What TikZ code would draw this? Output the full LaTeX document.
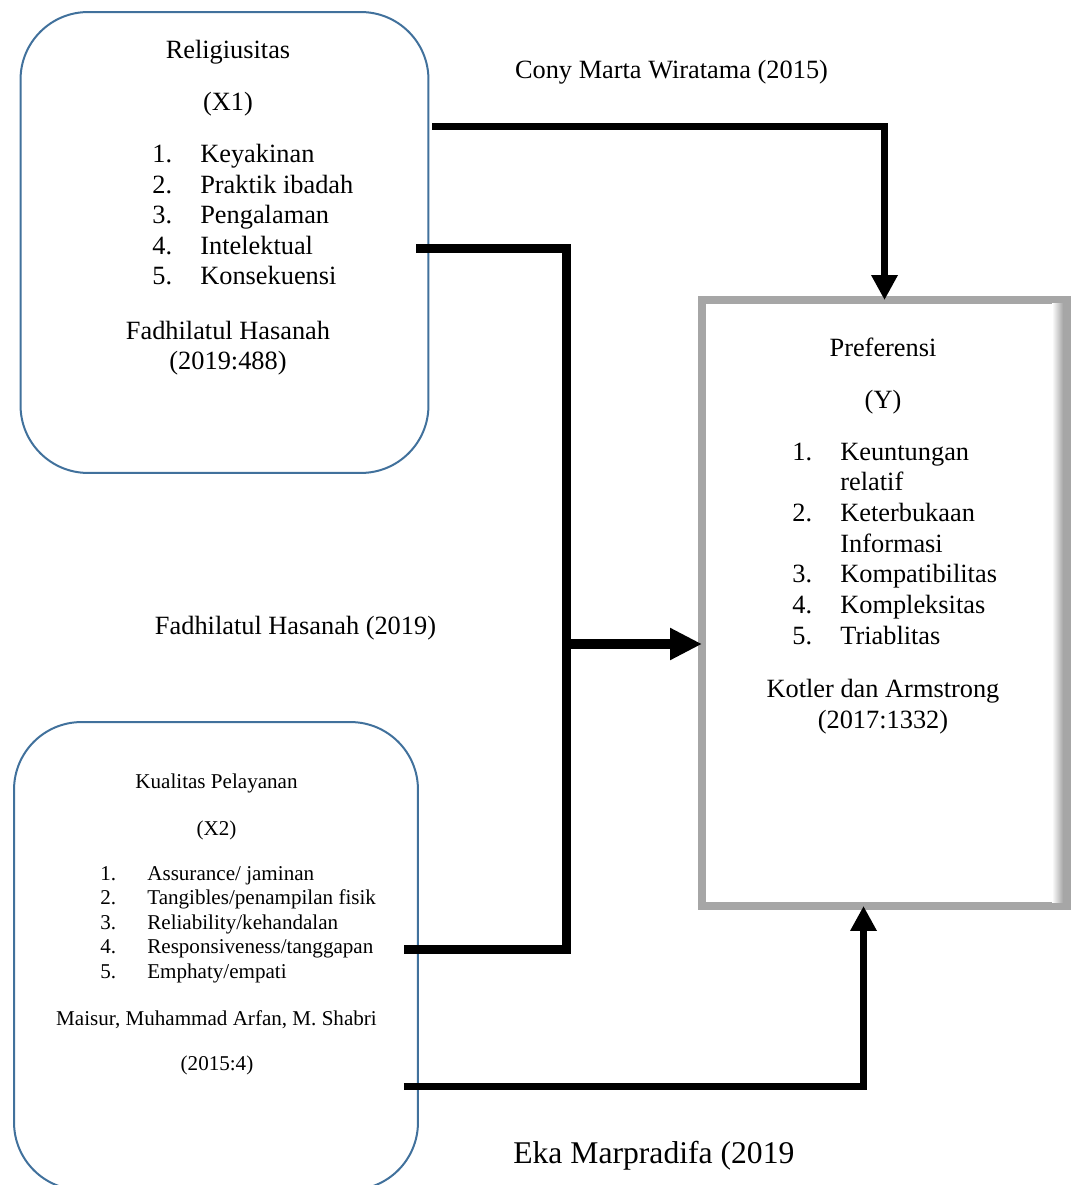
\documentclass[tikz,border=0pt]{standalone}
\usepackage{fontspec}
\setmainfont{Liberation Serif}
\usetikzlibrary{calc,arrows.meta}
\definecolor{varline}{RGB}{65,113,156}
\definecolor{yline}{RGB}{166,166,166}

\begin{document}
\begin{tikzpicture}[x=0.02cm,y=-0.02cm,var/.style={draw=varline,line width=0.04cm,rounded corners=1.35cm,fill=white,inner sep=0pt},yvar/.style={draw=yline,line width=0.16cm,fill=white,inner sep=0pt,outer sep=0pt},txt/.style={anchor=base,inner sep=0pt,font=\fontsize{15pt}{17.3pt}\selectfont},sml/.style={txt,font=\fontsize{12pt}{14pt}\selectfont},lst/.style={anchor=base west},flow/.style={draw=black,line width=0.14cm,-{Triangle[length=0.5cm,width=0.5cm]}},bar/.style={draw=black,line width=0.18cm},flowbig/.style={draw=black,line width=0.19cm,-{Triangle[length=0.64cm,width=0.6cm]}}]
\useasboundingbox (0,0) rectangle (1077,1185);
\node[var,minimum width=8.16cm,minimum height=9.22cm] (x1) at (224.5,242.5) {};
\node[var,minimum width=8.08cm,minimum height=9.36cm] (x2) at (216,956) {};
\node[yvar,minimum width=7.3cm,minimum height=12.12cm] (y) at (884.5,603) {};
\shade[left color=white,right color=yline] (1052,304) rectangle (1063,902);
\node[txt] (x1title) at (228,59) {Religiusitas};
\node[txt] (x1sym) at (228,111) {(X1)};
\node[txt,lst] (x1list) at (152,163) {\begin{tabular}[t]{@{}p{0.96cm}@{}l@{}}1.&Keyakinan\\2.&Praktik ibadah\\3.&Pengalaman\\4.&Intelektual\\5.&Konsekuensi\end{tabular}};
\node[txt] (x1ref) at (228,339) {Fadhilatul Hasanah};
\node[txt] (x1year) at (228,370) {(2019:488)};
\node[txt] (ytitle) at (883,357) {Preferensi};
\node[txt] (ysym) at (883,408) {(Y)};
\node[txt,lst] (ylist) at (792,460) {\fontsize{15pt}{17.5pt}\selectfont\begin{tabular}[t]{@{}p{0.96cm}@{}l@{}}1.&Keuntungan\\&relatif\\2.&Keterbukaan\\&Informasi\\3.&Kompatibilitas\\4.&Kompleksitas\\5.&Triablitas\end{tabular}};
\node[txt] (yref) at (883,697) {Kotler dan Armstrong};
\node[txt] (yyear) at (883,728) {(2017:1332)};
\node[sml] (x2title) at (216.5,788) {Kualitas Pelayanan};
\node[sml] (x2sym) at (216.5,835) {(X2)};
\node[sml,lst] (x2list) at (100,880) {\begin{tabular}[t]{@{}p{0.94cm}@{}l@{}}1.&Assurance/ jaminan\\2.&Tangibles/penampilan fisik\\3.&Reliability/kehandalan\\4.&Responsiveness/tanggapan\\5.&Emphaty/empati\end{tabular}};
\node[sml] (x2ref) at (216.5,1025) {Maisur, Muhammad Arfan, M. Shabri};
\node[sml] (x2year) at (217,1070) {(2015:4)};
\node[txt] (cony) at (671.5,79) {Cony Marta Wiratama (2015)};
\node[txt] (fadh) at (295.5,634) {Fadhilatul Hasanah (2019)};
\node[txt,anchor=base west,font=\fontsize{18pt}{21pt}\selectfont] (eka) at (513,1163) {Eka Marpradifa (2019};
\coordinate (jn) at (566,644);
\draw[flow] ($(x1.east |- 0,127)+(3,0)$) -| (y.north);
\draw[bar] ($(x1.east |- 0,249)+(-13,0)$) -| (jn) |- ($(x2.east |- 0,949)+(-15,0)$);
\draw[flowbig] (jn) -- (y.west |- jn);
\draw[flow] ($(x2.east |- 0,1086)+(-15,0)$) -| ([xshift=-0.42cm]y.south);
\end{tikzpicture}
\end{document}
